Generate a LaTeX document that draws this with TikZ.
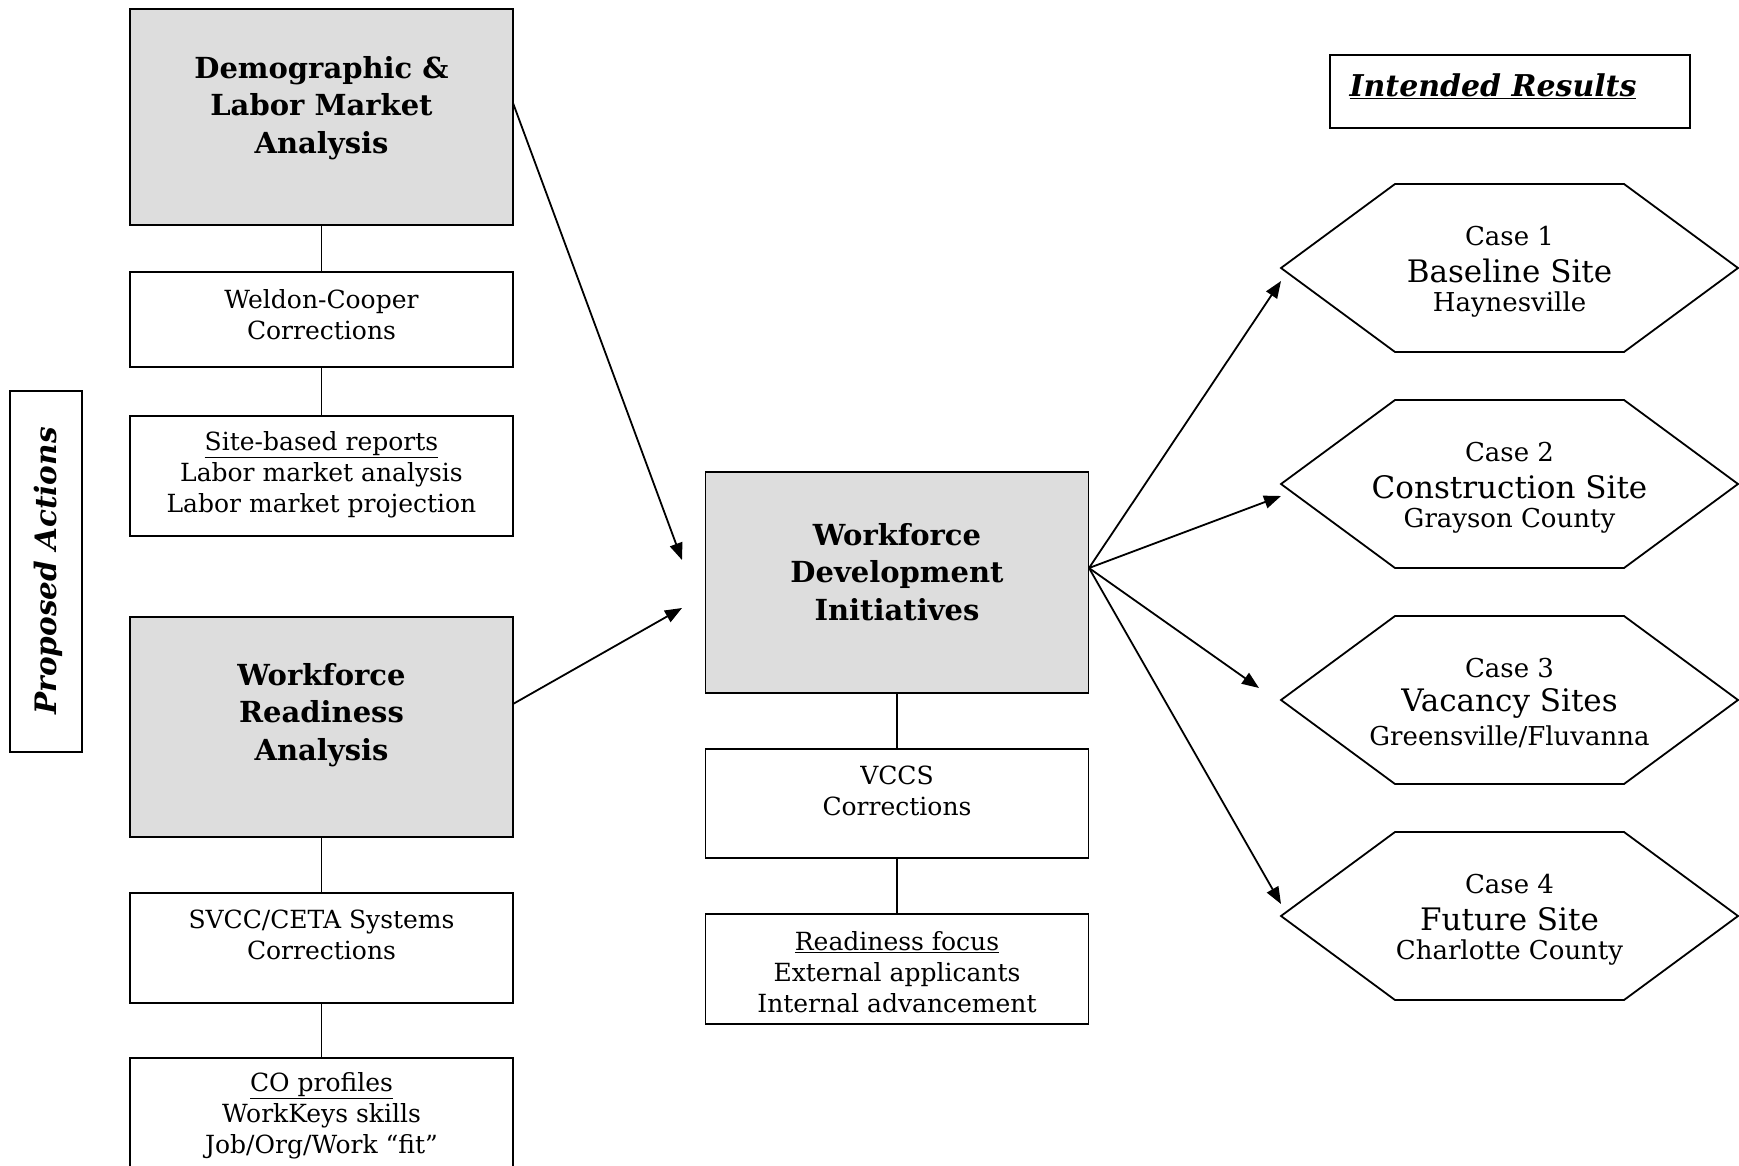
\documentclass[tikz,border=0pt]{standalone}
\usepackage{fontspec}
\setmainfont{DejaVu Serif}
\usetikzlibrary{arrows.meta}
\definecolor{boxgray}{RGB}{221,221,221}
\begin{document}
\begin{tikzpicture}[x=1pt,y=-1pt,
  frame/.style={draw, line width=1.8pt, inner sep=0pt, outer sep=0pt},
  shaded/.style={frame, fill=boxgray},
  colbox/.style={frame, minimum width=383pt},
  body/.style={font=\fontsize{25}{31}\selectfont, align=center, inner sep=0pt},
  title/.style={font=\fontsize{29}{37.5}\selectfont\bfseries, align=center, inner sep=0pt},
  small/.style={font=\fontsize{26}{28}\selectfont, inner sep=0pt},
  big/.style={font=\fontsize{31}{34}\selectfont, inner sep=0pt},
  link/.style={line width=1.8pt},
  arr/.style={line width=1.8pt, -{Triangle[length=17pt,width=13pt]}}]
\useasboundingbox (0,0) rectangle (1739,1166);
\clip (0,0) rectangle (1739,1166);

% left column
\node[colbox, shaded, minimum height=216pt] (dem) at (321.5,117) {};
\node[title] (demt) at (321.5,108) {Demographic \&\\Labor Market\\Analysis};
\node[colbox, minimum height=95pt] (wc) at (321.5,319.5) {};
\node[body] (wct) at (321.5,315) {Weldon-Cooper\\Corrections};
\node[colbox, minimum height=120pt] (sbr) at (321.5,476) {};
\node[body] (sbrt) at (321.5,475) {\underline{Site-based reports}\\Labor market analysis\\Labor market projection};
\node[colbox, shaded, minimum height=220pt] (wra) at (321.5,727) {};
\node[title] (wrat) at (321.5,715) {Workforce\\Readiness\\Analysis};
\node[colbox, minimum height=110pt] (svcc) at (321.5,948) {};
\node[body] (svcct) at (321.5,935) {SVCC/CETA Systems\\Corrections};
\node[colbox, minimum height=150pt] (co) at (321.5,1133) {};
\node[body] (cot) at (321.5,1116) {\underline{CO profiles}\\WorkKeys skills\\Job/Org/Work “fit”};

\draw[link] (dem.south) -- (wc.north);
\draw[link] (wc.south) -- (sbr.north);
\draw[link] (wra.south) -- (svcc.north);
\draw[link] (svcc.south) -- (co.north);

% proposed actions
\node[frame, minimum width=72pt, minimum height=361pt] (pa) at (46,571.5) {};
\node[rotate=90, font=\fontsize{29.5}{32}\selectfont\bfseries\itshape, inner sep=0pt] (pat) at (48,571) {Proposed Actions};

% middle column
\node[colbox, shaded, minimum height=221pt] (wdi) at (897,582.5) {};
\node[title] (wdit) at (897,572) {Workforce\\Development\\Initiatives};
\node[colbox, minimum height=109pt] (vccs) at (897,803.5) {};
\node[body] (vccst) at (897,791) {VCCS\\Corrections};
\node[colbox, minimum height=110pt] (rf) at (897,969) {};
\node[body] (rft) at (897,972) {\underline{Readiness focus}\\External applicants\\Internal advancement};

\draw[link] (wdi.south) -- (vccs.north);
\draw[link] (vccs.south) -- (rf.north);

% intended results
\node[frame, minimum width=360pt, minimum height=73pt] (ir) at (1510,91.5) {};
\node[font=\fontsize{30}{34}\selectfont\bfseries\itshape, inner sep=0pt] (irt) at (1493,86) {\underline{Intended Results}};

% hexagons
\foreach \i/\cy/\a/\b/\c in {1/268/Case 1/Baseline Site/Haynesville,
                              2/484/Case 2/Construction Site/Grayson County,
                              3/700/Case 3/Vacancy Sites/{Greensville/Fluvanna},
                              4/916/Case 4/Future Site/Charlotte County}{
  \coordinate (h\i) at (1509.5,\cy);
  \draw[line width=1.8pt] ([xshift=-228.5pt]h\i) -- ++(114,-84) -- ++(229,0) -- ++(114,84) -- ++(-114,84) -- ++(-229,0) -- cycle;
  \node[small] (ha\i) at ([yshift=32pt]h\i) {\a};
  \node[big] (hb\i) at ([yshift=-3pt]h\i) {\b};
  \node[small] (hc\i) at ([yshift=-37pt]h\i) {\c};
}

% arrows
\coordinate (in1) at (682,560);
\coordinate (in2) at (682,608);
\draw[arr] ([yshift=14pt]dem.east) -- (in1);
\draw[arr] ([yshift=23pt]wra.east) -- (in2);
\coordinate (out) at (1089,568);
\coordinate (e1) at (1281,281);
\coordinate (e2) at (1281,496);
\coordinate (e3) at (1259,688);
\coordinate (e4) at (1281,904);
\foreach \k in {1,2,3,4}{\draw[arr] (out) -- (e\k);}
\end{tikzpicture}
\end{document}
